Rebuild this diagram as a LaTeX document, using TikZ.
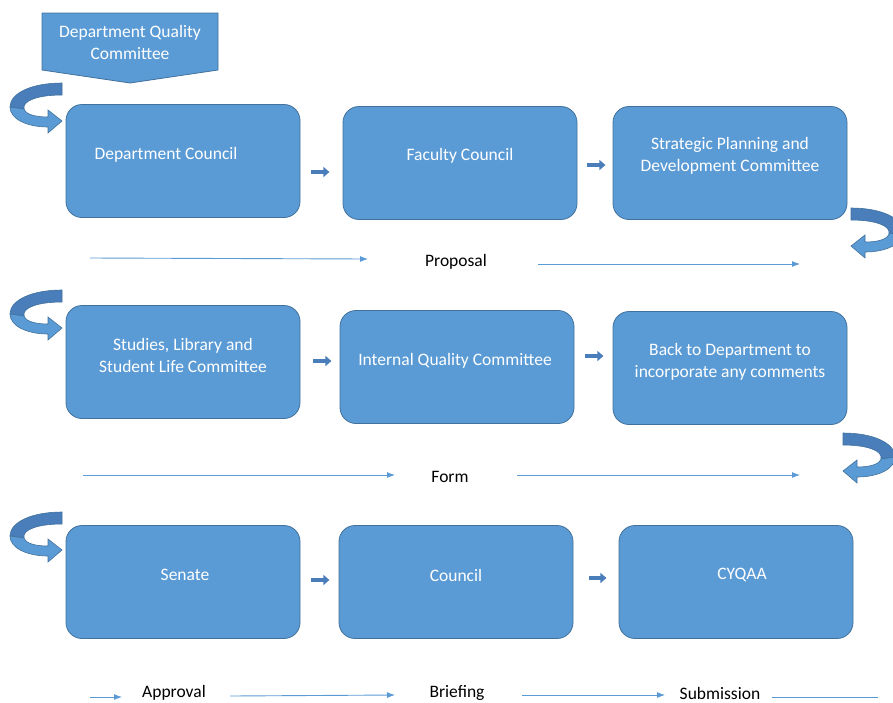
\documentclass[tikz,border=0pt]{standalone}
\usepackage{fontspec}
\setmainfont{Carlito}
\usetikzlibrary{arrows.meta}
\definecolor{boxblue}{HTML}{5B9BD5}
\definecolor{boxline}{HTML}{41719C}
\definecolor{curldark}{HTML}{4A7EBB}

\tikzset{
  curl/.pic={
    \filldraw[fill=curldark, draw=boxline, line width=0.6pt] (0,0) -- (0,-12) .. controls (-25,-12) and (-40,-18) .. (-38,-26) -- (-52,-24) .. controls (-52,-10) and (-30,0) .. (0,0) -- cycle;
    \filldraw[fill=boxblue, draw=boxline, line width=0.6pt] (-38,-26) .. controls (-36,-32) and (-25,-34) .. (-14,-34) -- (-14,-27) -- (0,-38) -- (-14,-50) -- (-14,-44) .. controls (-35,-44) and (-52,-36) .. (-52,-24) -- cycle;
  }
}

\begin{document}
\begin{tikzpicture}[x=1pt, y=1pt,
  box/.style={draw=boxline, fill=boxblue, line width=0.8pt, rounded corners=16pt, minimum width=234pt, minimum height=113pt, inner sep=0pt},
  boxtext/.style={text=white, align=center, font=\fontsize{17.5}{22}\selectfont},
  blk/.style={line width=4.5pt, draw=curldark, -{Triangle[length=6pt,width=10pt]}},
  flow/.style={draw=boxblue, line width=0.9pt, -{Latex[length=8pt,width=6pt]}},
  lbl/.style={text=black, font=\fontsize{17.5}{20}\selectfont}]
\useasboundingbox (0,0) rectangle (893,-702);

% top pentagon
\filldraw[fill=boxblue, draw=boxline, line width=0.8pt] (42,-13) -- (218,-13) -- (218,-70) -- (130,-83) -- (42,-70) -- cycle;
\node[boxtext] (dqc) at (130,-42) {Department Quality\\Committee};

% row 1
\node[box, label={[boxtext, yshift=6pt, xshift=-17pt]center:Department Council}] (dc) at (183,-161) {};
\node[box, label={[boxtext, yshift=7pt]center:Faculty Council}] (fc) at (460,-163) {};
\node[box, label={[boxtext, yshift=7pt]center:{Strategic Planning and\\Development Committee}}] (spd) at (730,-163) {};

% row 2
\node[box, label={[boxtext, yshift=7pt]center:{Studies, Library and\\Student Life Committee}}] (slc) at (183,-362) {};
\node[box, label={[boxtext, yshift=6pt, xshift=-2pt]center:Internal Quality Committee}] (iqc) at (457,-367) {};
\node[box, label={[boxtext, yshift=6pt]center:{Back to Department to\\incorporate any comments}}] (back) at (730,-368) {};

% row 3
\node[box, label={[boxtext, yshift=7pt, xshift=2pt]center:Senate}] (sen) at (183,-582) {};
\node[box, label={[boxtext, yshift=7pt]center:Council}] (cou) at (456,-582) {};
\node[box, label={[boxtext, yshift=7pt, xshift=6pt]center:CYQAA}] (cyq) at (736,-582) {};

% small block arrows
\draw[blk] ([shift={(11pt,-11pt)}]dc.east) -- ++(18,0);
\draw[blk] ([shift={(10pt,-2pt)}]fc.east) -- ++(18,0);
\draw[blk] ([shift={(13pt,1pt)}]slc.east) -- ++(18,0);
\draw[blk] ([shift={(11pt,11pt)}]iqc.east) -- ++(18,0);
\draw[blk] ([shift={(11pt,2pt)}]sen.east) -- ++(18,0);
\draw[blk] ([shift={(16pt,4pt)}]cou.east) -- ++(17,0);

% curl arrows
\pic at (62,-83) {curl};
\pic at (62,-290) {curl};
\pic at (62,-512) {curl};
\pic[xscale=-1] at (851,-208) {curl};
\pic[xscale=-1] at (843,-433) {curl};

% proposal line
\node[lbl] (prop) at (456,-262) {Proposal};
\coordinate (p1) at (90,-258);
\coordinate (p2) at (368,-259);
\coordinate (p3) at (538,-264);
\coordinate (p4) at (800,-264);
\draw[flow] (p1) -- (p2);
\draw[flow] (p3) -- (p4);

% form line
\node[lbl] (form) at (450,-477) {Form};
\coordinate (f1) at (83,-475);
\coordinate (f2) at (395,-475);
\coordinate (f3) at (517,-475);
\coordinate (f4) at (800,-475);
\draw[flow] (f1) -- (f2);
\draw[flow] (f3) -- (f4);

% bottom line
\node[lbl] (appr) at (174,-693) {Approval};
\node[lbl] (brief) at (457,-693) {Briefing};
\node[lbl] (subm) at (720,-693) {Submission};
\coordinate (b0) at (90,-697);
\coordinate (b1) at (230,-696);
\coordinate (b2) at (522,-695);
\coordinate (b3) at (772,-697);
\coordinate (b4) at (878,-697);
\draw[flow] (b0) -- (122,-697);
\draw[flow] (b1) -- (395,-695);
\draw[flow] (b2) -- (665,-695);
\draw[draw=boxblue, line width=0.9pt] (b3) -- (b4);
\end{tikzpicture}
\end{document}
